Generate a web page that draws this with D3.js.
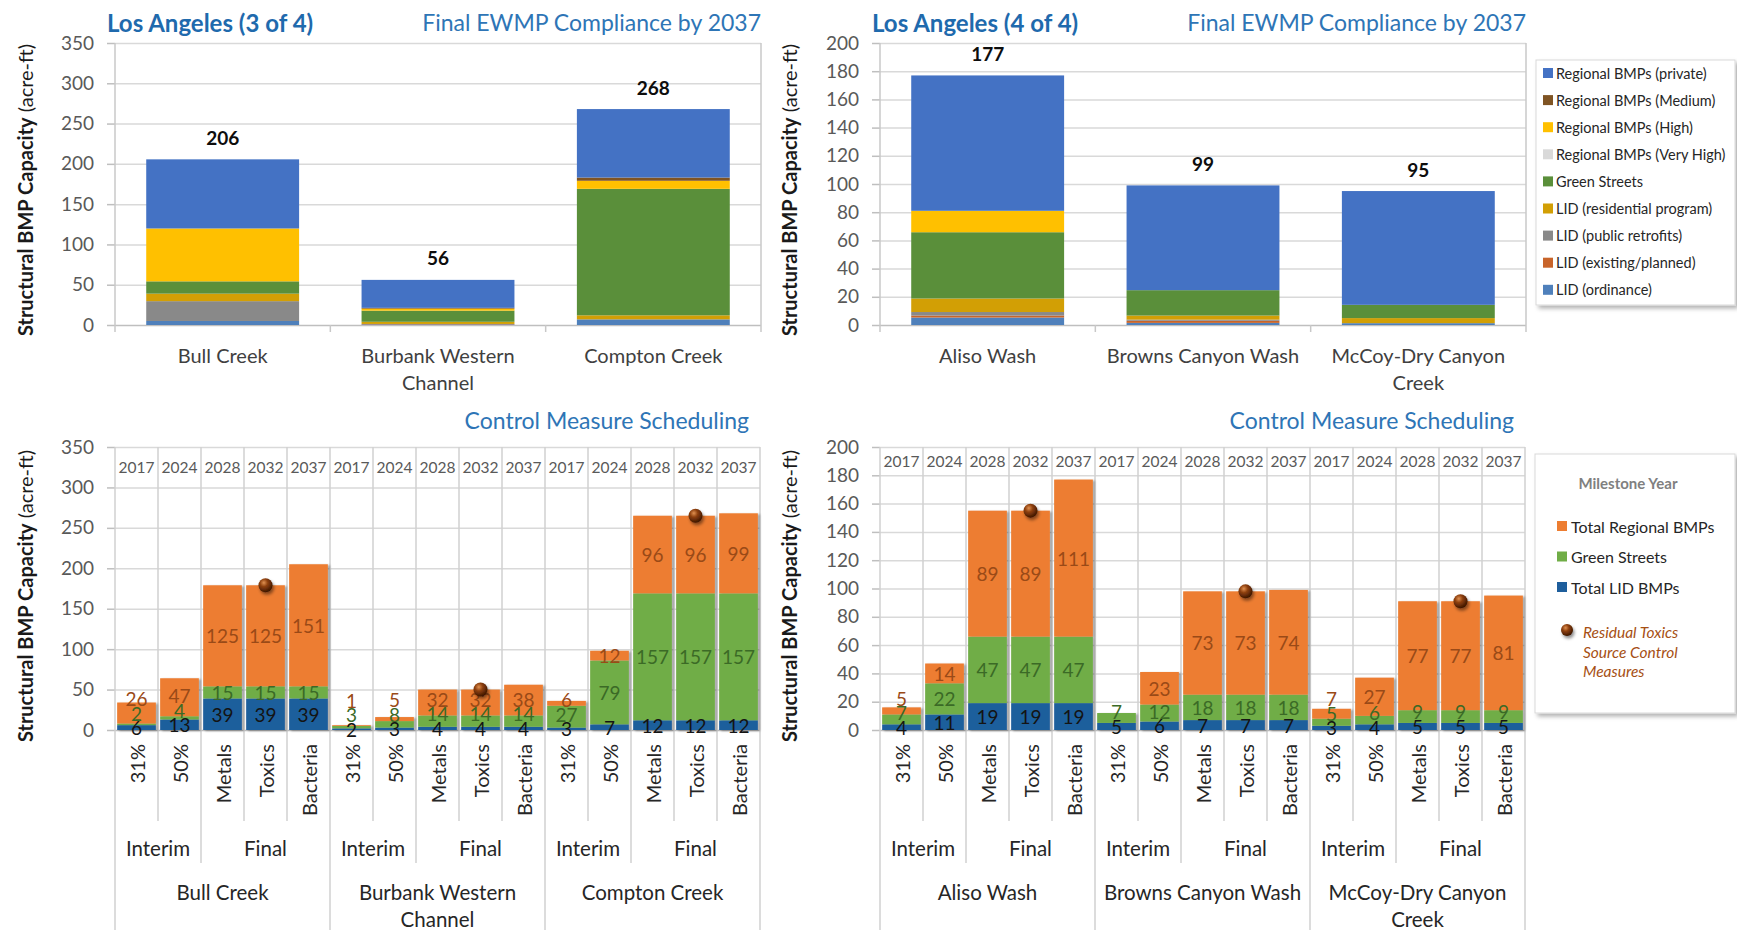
<!DOCTYPE html>
<html>
<head>
<meta charset="utf-8">
<script src="https://cdn.jsdelivr.net/npm/d3@7"></script>
<style>
  body { margin: 0; background: #fff; }
  svg { display: block; font-family: Lato, "Open Sans", sans-serif; }
</style>
</head>
<body>
<svg id="chart" width="1737" height="930"></svg>
<script>
// ---------------- data ----------------
// BMP categories, bottom of stack first
const bmpSeries = [
  "LID (ordinance)", "LID (existing/planned)", "LID (public retrofits)", "LID (residential program)",
  "Green Streets", "Regional BMPs (Very High)", "Regional BMPs (High)", "Regional BMPs (Medium)",
  "Regional BMPs (private)"
];
const bmpColors = ["#4f80bb", "#c8642a", "#898989", "#d29f05", "#5a8f3a", "#d9d9d9", "#ffc000", "#7f5423", "#4472c4"];

const creeksWest = ["Bull Creek", "Burbank Western Channel", "Compton Creek"];
const creeksEast = ["Aliso Wash", "Browns Canyon Wash", "McCoy-Dry Canyon Creek"];

// final structural BMP capacity (acre-ft) by category, same order as bmpSeries
const bullCreekBmp = [5, 0, 24.6, 9.3, 15.3, 0, 65.6, 0, 85.8];
const burbankBmp   = [0.8, 0.5, 0, 2.7, 13.8, 0, 2.5, 1.0, 34.7];
const comptonBmp   = [7, 0, 0, 5, 157, 0, 10, 4, 85];
const alisoBmp     = [5.3, 1.4, 2.5, 9.6, 47, 0, 15.2, 0, 96.0];
const brownsBmp    = [1.5, 1.5, 0.8, 2.9, 18, 0, 0, 0, 74.3];
const mccoyBmp     = [1.3, 0, 0, 3.6, 9.4, 0, 0, 0, 80.7];

// milestone scheduling
const milestoneYears = ["2017", "2024", "2028", "2032", "2037"];
const milestoneNames = ["31%", "50%", "Metals", "Toxics", "Bacteria"];
const phaseNames = ["Interim", "Final"];
const phaseSpans = [2, 3];
const toxicsMilestone = "Toxics";

const scheduleSeries = ["Total LID BMPs", "Green Streets", "Total Regional BMPs"];
const scheduleColors = ["#1e5e9c", "#70ad47", "#ed7d31"];
const scheduleLabelColors = ["#141414", "#3b6a26", "#9a4a17"];

// per creek, per milestone (acre-ft)
const lidWest      = [[6, 13, 39, 39, 39], [2, 3, 4, 4, 4], [3, 7, 12, 12, 12]];
const greenWest    = [[2, 4, 15, 15, 15], [3, 8, 14, 14, 14], [27, 79, 157, 157, 157]];
const regionalWest = [[26, 47, 125, 125, 151], [1, 5, 32, 32, 38], [6, 12, 96, 96, 99]];
const lidEast      = [[4, 11, 19, 19, 19], [5, 6, 7, 7, 7], [3, 4, 5, 5, 5]];
const greenEast    = [[7, 22, 47, 47, 47], [7, 12, 18, 18, 18], [5, 6, 9, 9, 9]];
const regionalEast = [[5, 14, 89, 89, 111], [0, 23, 73, 73, 74], [7, 27, 77, 77, 81]];

// ---------------- drawing ----------------
const FONT = "Lato, 'Open Sans', sans-serif";
const NARROW = "'Liberation Sans Narrow', 'Arial Narrow', Lato, sans-serif";
const svg = d3.select("#chart");
const defs = svg.append("defs");

const barShadow = defs.append("filter").attr("id", "barShadow")
  .attr("x", "-20%").attr("y", "-5%").attr("width", "150%").attr("height", "115%");
barShadow.append("feDropShadow").attr("dx", 2).attr("dy", 1).attr("stdDeviation", 1.3)
  .attr("flood-color", "#000").attr("flood-opacity", 0.35);

const boxShadow = defs.append("filter").attr("id", "boxShadow")
  .attr("x", "-5%").attr("y", "-5%").attr("width", "115%").attr("height", "115%");
boxShadow.append("feDropShadow").attr("dx", 3).attr("dy", 3).attr("stdDeviation", 2)
  .attr("flood-color", "#000").attr("flood-opacity", 0.3);

const dotShadow = defs.append("filter").attr("id", "dotShadow")
  .attr("x", "-60%").attr("y", "-60%").attr("width", "240%").attr("height", "240%");
dotShadow.append("feDropShadow").attr("dx", 1.5).attr("dy", 2.5).attr("stdDeviation", 1.5)
  .attr("flood-color", "#000").attr("flood-opacity", 0.45);

const dotGrad = defs.append("radialGradient").attr("id", "dotFill")
  .attr("cx", "38%").attr("cy", "32%").attr("r", "70%");
dotGrad.append("stop").attr("offset", "0%").attr("stop-color", "#e09050");
dotGrad.append("stop").attr("offset", "40%").attr("stop-color", "#8e400e");
dotGrad.append("stop").attr("offset", "100%").attr("stop-color", "#3a1400");

function wrapLabel(sel, maxWidth, lineHeight) {
  sel.each(function () {
    const text = d3.select(this);
    const words = text.text().split(/\s+/);
    const x = text.attr("x");
    text.text(null);
    let line = [];
    let tspan = text.append("tspan").attr("x", x).attr("dy", 0);
    for (const w of words) {
      line.push(w);
      tspan.text(line.join(" "));
      if (tspan.node().getComputedTextLength() > maxWidth && line.length > 1) {
        line.pop();
        tspan.text(line.join(" "));
        line = [w];
        tspan = text.append("tspan").attr("x", x).attr("dy", lineHeight).text(w);
      }
    }
  });
}

function axisTitle(cx, cy) {
  const t = svg.append("text")
    .attr("transform", `translate(${cx},${cy}) rotate(-90)`)
    .attr("text-anchor", "middle").attr("dominant-baseline", "central")
    .attr("font-size", 20).attr("fill", "#1a1a1a").attr("font-family", FONT);
  t.append("tspan").attr("font-weight", "bold").text("Structural BMP Capacity");
  t.append("tspan").text(" (acre-ft)");
}

function valueAxis(g, y, left, right, tickVals) {
  g.append("g").attr("transform", `translate(${left},0)`)
    .call(d3.axisLeft(y).tickValues(tickVals).tickSize(-(right - left)).tickFormat(""))
    .call(a => a.select(".domain").remove())
    .call(a => a.selectAll(".tick line")
      .attr("stroke", d => d === 0 ? "#bfbfbf" : "#d9d9d9").attr("stroke-width", 1.5));
  g.append("g").attr("transform", `translate(${left},0)`)
    .call(d3.axisLeft(y).tickValues(tickVals).tickSize(8).tickPadding(13))
    .call(a => a.select(".domain").remove())
    .call(a => a.selectAll(".tick line").attr("stroke", "#bfbfbf").attr("stroke-width", 1.5))
    .call(a => a.selectAll(".tick text")
      .attr("font-size", 19).attr("fill", "#595959").attr("font-family", FONT));
}

// ---- final capacity panels ----
function capacityPanel(cfg) {
  const { left, right, top, bottom, max, step, creeks, values, title, subtitle } = cfg;
  const g = svg.append("g");
  const x = d3.scaleBand().domain(creeks).range([left, right]).paddingInner(0.29).paddingOuter(0.145);
  const y = d3.scaleLinear().domain([0, max]).range([bottom, top]);
  valueAxis(g, y, left, right, d3.range(0, max + step / 2, step));

  const bounds = d3.range(creeks.length + 1).map(i => left + i * x.step());
  g.append("g").selectAll("line").data(bounds).join("line")
    .attr("x1", d => d).attr("x2", d => d)
    .attr("y1", (d, i) => (i === 0 || i === creeks.length) ? top : bottom)
    .attr("y2", bottom + 7)
    .attr("stroke", "#c8c8c8").attr("stroke-width", 1.5);

  const rows = creeks.map((c, i) => Object.assign({ creek: c }, values[i]));
  const keys = d3.range(bmpSeries.length);
  const stacked = d3.stack().keys(keys)(rows);
  g.append("g").selectAll("g").data(stacked).join("g")
    .attr("fill", (d, i) => bmpColors[i])
    .selectAll("rect").data(d => d).join("rect")
    .attr("x", d => x(d.data.creek)).attr("width", x.bandwidth())
    .attr("y", d => y(d[1])).attr("height", d => y(d[0]) - y(d[1]));

  g.append("g").selectAll("text").data(rows).join("text")
    .attr("x", d => x(d.creek) + x.bandwidth() / 2)
    .attr("y", (d, i) => y(d3.sum(values[i])) - 22)
    .attr("text-anchor", "middle").attr("dominant-baseline", "central")
    .attr("font-size", 19).attr("font-weight", "bold").attr("fill", "#0d0d0d")
    .text((d, i) => d3.format(".0f")(d3.sum(values[i])));

  g.append("g").selectAll("text").data(creeks).join("text")
    .attr("x", d => x(d) + x.bandwidth() / 2).attr("y", bottom + 30)
    .attr("text-anchor", "middle").attr("dominant-baseline", "central")
    .attr("font-size", 20).attr("fill", "#404040")
    .text(d => d)
    .call(wrapLabel, x.step() - 12, 27);

  svg.append("text").attr("x", left - 8).attr("y", 22)
    .attr("dominant-baseline", "central").attr("font-size", 24).attr("font-weight", "bold")
    .attr("fill", "#1f6aad").text(title);
  svg.append("text").attr("x", right).attr("y", 22).attr("text-anchor", "end")
    .attr("dominant-baseline", "central").attr("font-size", 23)
    .attr("fill", "#2e75b6").text(subtitle);
}

// ---- milestone scheduling panels ----
function schedulePanel(cfg) {
  const { left, right, top, bottom, max, step, creeks, lid, green, regional } = cfg;
  const g = svg.append("g");
  const cols = [];
  creeks.forEach((c, ci) => milestoneNames.forEach((m, mi) => {
    cols.push({ key: c + "|" + m, creek: c, ci, milestone: m, mi, year: milestoneYears[mi],
      vals: [lid[ci][mi], green[ci][mi], regional[ci][mi]] });
  }));
  const x = d3.scaleBand().domain(cols.map(d => d.key)).range([left, right])
    .paddingInner(0.1).paddingOuter(0.05);
  const y = d3.scaleLinear().domain([0, max]).range([bottom, top]);
  const stepPx = x.step();
  valueAxis(g, y, left, right, d3.range(0, max + step / 2, step));

  // column / phase / creek separators
  const nCols = cols.length;
  const perCreek = milestoneNames.length;
  const phaseBreak = phaseSpans[0];
  const seps = d3.range(nCols + 1).map(i => {
    const pos = i % perCreek;
    const level = pos === 0 ? 3 : (pos === phaseBreak ? 2 : 1);
    return { x: left + i * stepPx, level };
  });
  g.append("g").selectAll("line").data(seps).join("line")
    .attr("x1", d => d.x).attr("x2", d => d.x)
    .attr("y1", top)
    .attr("y2", d => d.level === 3 ? 930 : d.level === 2 ? bottom + 133 : bottom + 91)
    .attr("stroke", "#d0d0d0").attr("stroke-width", 1.5);

  // stacked bars
  const rows = cols.map(d => Object.assign({ key: d.key }, d.vals));
  const stacked = d3.stack().keys([0, 1, 2])(rows);
  g.append("g").attr("filter", "url(#barShadow)")
    .selectAll("g").data(stacked).join("g")
    .attr("fill", (d, i) => scheduleColors[i])
    .selectAll("rect").data(d => d).join("rect")
    .attr("x", d => x(d.data.key)).attr("width", x.bandwidth())
    .attr("y", d => y(d[1])).attr("height", d => y(d[0]) - y(d[1]));

  // value labels: centred in each segment, nudged upward when crowded
  const labels = [];
  cols.forEach(col => {
    let base = 0, prevY = Infinity;
    col.vals.forEach((v, si) => {
      const mid = y(base + v / 2);
      base += v;
      if (v <= 0) return;
      const ly = Math.min(mid, prevY - 14.5);
      prevY = ly;
      labels.push({ x: x(col.key) + x.bandwidth() / 2, y: ly, v, si });
    });
  });
  g.append("g").selectAll("text").data(labels).join("text")
    .attr("x", d => d.x).attr("y", d => d.y)
    .attr("text-anchor", "middle").attr("dominant-baseline", "central")
    .attr("font-size", 19).attr("font-family", NARROW)
    .attr("fill", d => scheduleLabelColors[d.si]).text(d => d.v);

  // residual toxics markers
  g.append("g").selectAll("circle").data(cols.filter(d => d.milestone === toxicsMilestone)).join("circle")
    .attr("cx", d => x(d.key) + x.bandwidth() / 2).attr("cy", d => y(d3.sum(d.vals)))
    .attr("r", 7).attr("fill", "url(#dotFill)").attr("filter", "url(#dotShadow)");

  // milestone years across the top band
  g.append("g").selectAll("text").data(cols).join("text")
    .attr("x", d => x(d.key) + x.bandwidth() / 2).attr("y", y(max - step / 2))
    .attr("text-anchor", "middle").attr("dominant-baseline", "central")
    .attr("font-size", 15.5).attr("fill", "#595959").text(d => d.year);

  // milestone names (rotated)
  g.append("g").selectAll("text").data(cols).join("text")
    .attr("transform", d => `translate(${x(d.key) + x.bandwidth() / 2},${bottom + 14}) rotate(-90)`)
    .attr("text-anchor", "end").attr("dominant-baseline", "central")
    .attr("font-size", 20).attr("fill", "#262626").text(d => d.milestone);

  // phase labels
  const phases = [];
  creeks.forEach((c, ci) => {
    let start = ci * perCreek;
    phaseNames.forEach((p, pi) => {
      phases.push({ name: p, cx: left + (start + phaseSpans[pi] / 2) * stepPx });
      start += phaseSpans[pi];
    });
  });
  g.append("g").selectAll("text").data(phases).join("text")
    .attr("x", d => d.cx).attr("y", bottom + 118)
    .attr("text-anchor", "middle").attr("dominant-baseline", "central")
    .attr("font-size", 20.5).attr("fill", "#262626").text(d => d.name);

  // creek labels
  g.append("g").selectAll("text").data(creeks).join("text")
    .attr("x", (d, ci) => left + (ci + 0.5) * perCreek * stepPx).attr("y", bottom + 162)
    .attr("text-anchor", "middle").attr("dominant-baseline", "central")
    .attr("font-size", 20.5).attr("fill", "#262626").text(d => d)
    .call(wrapLabel, perCreek * stepPx - 12, 27);

  svg.append("text").attr("x", right - 11).attr("y", 420).attr("text-anchor", "end")
    .attr("dominant-baseline", "central").attr("font-size", 23)
    .attr("fill", "#2e75b6").text("Control Measure Scheduling");
}

capacityPanel({ left: 115, right: 761, top: 43, bottom: 325, max: 350, step: 50,
  creeks: creeksWest, values: [bullCreekBmp, burbankBmp, comptonBmp],
  title: "Los Angeles (3 of 4)", subtitle: "Final EWMP Compliance by 2037" });
capacityPanel({ left: 880, right: 1526, top: 43, bottom: 325, max: 200, step: 20,
  creeks: creeksEast, values: [alisoBmp, brownsBmp, mccoyBmp],
  title: "Los Angeles (4 of 4)", subtitle: "Final EWMP Compliance by 2037" });
schedulePanel({ left: 115, right: 760, top: 447, bottom: 730, max: 350, step: 50,
  creeks: creeksWest, lid: lidWest, green: greenWest, regional: regionalWest });
schedulePanel({ left: 880, right: 1525, top: 447, bottom: 730, max: 200, step: 20,
  creeks: creeksEast, lid: lidEast, green: greenEast, regional: regionalEast });

axisTitle(25, 190);
axisTitle(789, 190);
axisTitle(25, 596);
axisTitle(789, 596);

// ---- legend: BMP categories ----
const legTop = svg.append("g");
legTop.append("rect").attr("x", 1536).attr("y", 60).attr("width", 199).attr("height", 245)
  .attr("fill", "#fff").attr("stroke", "#d9d9d9").attr("filter", "url(#boxShadow)");
const legendOrder = d3.range(bmpSeries.length).reverse();
const legItems = legTop.selectAll("g.item").data(legendOrder).join("g").attr("class", "item")
  .attr("transform", (d, i) => `translate(1543,${73 + i * 27.1})`);
legItems.append("rect").attr("x", 0).attr("y", -5).attr("width", 10).attr("height", 10)
  .attr("fill", d => bmpColors[d]);
legItems.append("text").attr("x", 13).attr("y", 0).attr("dominant-baseline", "central")
  .attr("font-size", 14.5).attr("fill", "#262626").text(d => bmpSeries[d]);

// ---- legend: milestone scheduling ----
const legBot = svg.append("g");
legBot.append("rect").attr("x", 1535).attr("y", 454).attr("width", 200).attr("height", 259)
  .attr("fill", "#fff").attr("stroke", "#d9d9d9").attr("filter", "url(#boxShadow)");
legBot.append("text").attr("x", 1628).attr("y", 483).attr("text-anchor", "middle")
  .attr("dominant-baseline", "central").attr("font-size", 15).attr("font-weight", "bold")
  .attr("fill", "#808080").text("Milestone Year");
const schedOrder = [2, 1, 0];
const sItems = legBot.selectAll("g.item").data(schedOrder).join("g").attr("class", "item")
  .attr("transform", (d, i) => `translate(1557,${526 + i * 30.5})`);
sItems.append("rect").attr("x", 0).attr("y", -5).attr("width", 10).attr("height", 10)
  .attr("fill", d => scheduleColors[d]);
sItems.append("text").attr("x", 14).attr("y", 0).attr("dominant-baseline", "central")
  .attr("font-size", 16).attr("fill", "#262626").text(d => scheduleSeries[d]);
legBot.append("circle").attr("cx", 1567).attr("cy", 630).attr("r", 6)
  .attr("fill", "url(#dotFill)").attr("filter", "url(#dotShadow)");
const resid = legBot.append("text").attr("font-size", 15.5).attr("font-style", "italic")
  .attr("fill", "#a64f14");
["Residual Toxics", "Source Control", "Measures"].forEach((t, i) => {
  resid.append("tspan").attr("x", 1583).attr("y", 632 + i * 19.5)
    .attr("dominant-baseline", "central").text(t);
});
</script>
</body>
</html>
